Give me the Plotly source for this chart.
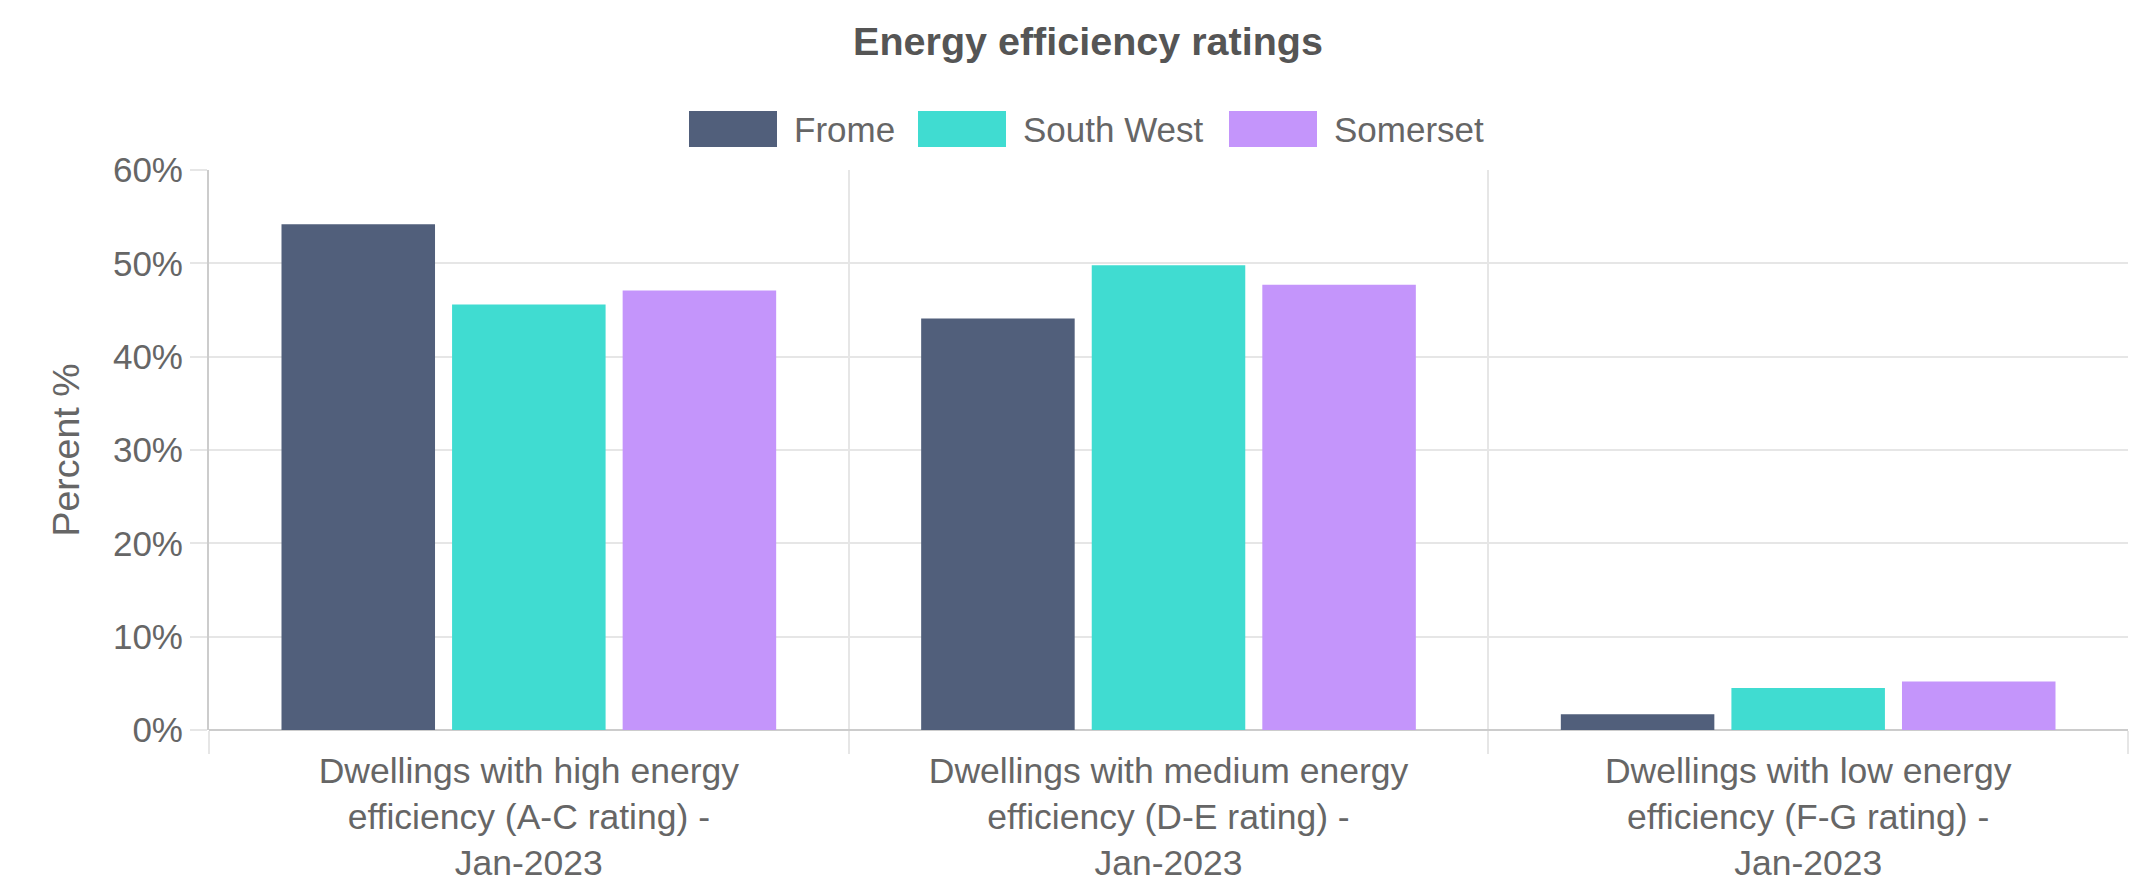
import plotly.graph_objects as go

# Data
categories = [
    "Dwellings with high energy<br>efficiency (A-C rating) -<br>Jan-2023",
    "Dwellings with medium energy<br>efficiency (D-E rating) -<br>Jan-2023",
    "Dwellings with low energy<br>efficiency (F-G rating) -<br>Jan-2023",
]
series_names = ["Frome", "South West", "Somerset"]
frome = [54.2, 44.1, 1.7]
south_west = [45.6, 49.8, 4.5]
somerset = [47.1, 47.7, 5.2]
series_values = [frome, south_west, somerset]
y_ticks = [0, 10, 20, 30, 40, 50, 60]
y_tick_labels = [f"{v}%" for v in y_ticks]

colors = ["#515f7b", "#40dcd1", "#c495fb"]
font_family = "Liberation Sans, Arial, sans-serif"
text_color = "#666666"
grid_color = "#e6e6e6"

# Figure / plot geometry (pixels, page body has an 8px margin)
W, H = 2140, 878
plot_left, plot_right = 201, 2120
plot_top, plot_bottom = 162, 722


def px_x(px):
    return (px - plot_left) / (plot_right - plot_left)


def px_y(py):
    return (plot_bottom - py) / (plot_bottom - plot_top)


fig = go.Figure()

for name, values, color in zip(series_names, series_values, colors):
    fig.add_trace(go.Bar(
        x=categories,
        y=values,
        name=name,
        marker=dict(color=color, line=dict(width=0)),
        showlegend=False,
        hovertemplate="%{y}%<extra>" + name + "</extra>",
    ))

# Chart.js style legend: wide colour boxes followed by labels
legend_box_left = [681, 910, 1221]
box_w, box_h = 88, 36
legend_cy = 121
for name, color, bx in zip(series_names, colors, legend_box_left):
    fig.add_shape(
        type="rect", xref="paper", yref="paper",
        x0=px_x(bx), x1=px_x(bx + box_w),
        y0=px_y(legend_cy + box_h / 2), y1=px_y(legend_cy - box_h / 2),
        fillcolor=color, line=dict(width=0),
    )
    fig.add_annotation(
        xref="paper", yref="paper",
        x=px_x(bx + box_w + 15), y=px_y(legend_cy),
        xanchor="left", yanchor="middle",
        text=name, showarrow=False,
        font=dict(family=font_family, size=35, color=text_color),
    )

fig.update_layout(
    width=W,
    height=H,
    margin=dict(l=plot_left, r=W - plot_right, t=plot_top, b=H - plot_bottom),
    paper_bgcolor="white",
    plot_bgcolor="white",
    barmode="group",
    bargap=0.2,
    bargroupgap=0.1,
    title=dict(
        text="<b>Energy efficiency ratings</b>",
        x=1080 / W, xref="container", xanchor="center",
        y=1 - 33 / H, yref="container", yanchor="middle",
        font=dict(family=font_family, size=39.5, color="#555555"),
    ),
    font=dict(family=font_family, size=35, color=text_color),
    xaxis=dict(
        type="category",
        tickson="boundaries",
        showgrid=True,
        gridcolor=grid_color,
        gridwidth=2,
        ticks="outside",
        ticklen=23,
        tickwidth=2,
        tickcolor=grid_color,
        showline=False,
        ticklabelstandoff=16,
        automargin=False,
        tickfont=dict(family=font_family, size=35.5, color=text_color),
        fixedrange=True,
    ),
    yaxis=dict(
        range=[0, 60],
        tickvals=y_ticks,
        ticktext=y_tick_labels,
        showgrid=True,
        gridcolor=grid_color,
        gridwidth=2,
        ticks="outside",
        ticklen=17,
        tickwidth=2,
        tickcolor=grid_color,
        showline=True,
        linecolor="#cccccc",
        linewidth=2,
        zeroline=True,
        zerolinecolor="#cccccc",
        zerolinewidth=2,
        automargin=False,
        title=dict(text="Percent %", font=dict(family=font_family, size=37.5, color=text_color), standoff=22),
        tickfont=dict(family=font_family, size=35, color=text_color),
        fixedrange=True,
    ),
)

fig.write_html("out.html")
